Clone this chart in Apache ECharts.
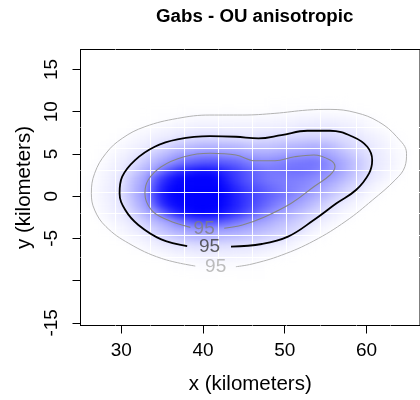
<!DOCTYPE html>
<html><head><meta charset="utf-8">
<script src="https://cdn.jsdelivr.net/npm/echarts@6/dist/echarts.min.js"></script>
<style>html,body{margin:0;padding:0;background:#fff}#c{width:420px;height:400px}</style>
</head><body><div id="c"></div>
<script>
const titleText = 'Gabs - OU anisotropic';
const xName = 'x (kilometers)';
const yName = 'y (kilometers)';
const xTicks = [30, 40, 50, 60];
const yTicks = [-15, -10, -5, 0, 5, 10, 15];
const yTickLabels = [-15, -5, 0, 5, 10, 15];
const xRange = [25.02, 66.55];
const yRange = [-15.32, 17.36];

// density colour intensity (0 = white, 100 = full blue), 1 km cells, rows start at x = 26
const firstCellX = 26;
const rowY = [11, 10, 9, 8, 7, 6, 5, 4, 3, 2, 1, 0, -1, -2, -3, -4, -5, -6, -7, -8, -9];
const dens_p11 = [0,0,0,0,0,0,0,0,0,0,0,0,0,0,0,0,0,0,0,0,0,0,0.3,0.3,0.3,0.3,0.3,0.3,0.3,0.3,0.3,0.3];
const dens_p10 = [0,0,0,0,0,0,0,0,0.3,0.3,0.3,0.3,0.8,0.8,0.8,0.8,0.8,0.8,0.8,0.8,0.8,0.8,0.8,1,1,1.2,1.5,1.5,1.5,1.5,1.2,1.2,0.8,0.3,0.3,0];
const dens_p9 = [0,0,0,0,0,0,0,0.3,0.5,0.8,1.2,2,2.5,3,3,3,3,3,3,3,3,3.5,3.5,4,4,4.5,5,5,5.5,5.5,5,4.5,4,3,2,1.2,0.5,0];
const dens_p8 = [0,0,0,0,0,0.3,1,1.5,2.5,3.5,4.5,5.5,6,6.5,7,7,7,6.5,6.5,6.5,6.5,7,7,7.5,8,8,10,10,10,10,10,8,7,6,4,2.5,1.2,0.5,0];
const dens_p7 = [0,0,0,0.3,0.8,2,3,4.5,6,7,8,10,12,12.5,13.5,13.5,13,12.5,12,10.5,10.5,12,13,14,15,15,16,17,17,16,15,13,12,9,7,5.5,4,2,0.8,0];
const dens_p6 = [0,0,0.5,1.2,2.5,4,5.5,7,10,13,16,20,23,25,27,27,27,27,26,24,22,22,22,24,25,27,28,29,29,27,24,19,15,12.5,10,7,5,3,1.2,0.5];
const dens_p5 = [0,0.5,1.2,2.5,4.5,6.5,9,13,19,24,29,34,38,41,43,44,43,41,40,37,34,33,33,34,36,38,39,40,40,37,32,27,22,17,13,9,6.5,4.5,2.5,1.2];
const dens_p4 = [0,0.8,2,4.5,6.5,10,15,22,28,35,42,50,58,62,65,66,65,63,60,54,49,46,46,48,50,52,53,54,53,48,40,34,28,22,16,10,7,5,2.5,0.8];
const dens_p3 = [0.3,1.2,3.5,6,8,14,22,30,38,55,68,78,86,90,92,91,87,81,75,68,62,57,54,54,55,56,56,54,51,46,41,35,28,21,15,9,6.5,4,2,0.5];
const dens_p2 = [0.8,2,4.5,7,10.5,20,29,38,60,78,90,97,100,100,100,100,97,88,78,70,63,58,54,52,51,51,50,47,44,40,35,29,23,17,12,7,5,2.5,0.8,0];
const dens_p1 = [1,2.5,5,7.5,12.5,22,32,41,68,86,96,100,100,100,100,100,100,94,85,77,70,65,60,56,52,50,47,44,39,33,28,22,17,12,7,4.5,2,0.8,0,0];
const dens_0 = [1,2.5,5,7.5,12.5,22,32,42,70,88,97,100,100,100,100,100,100,96,88,80,74,68,63,58,53,47,42,36,31,26,20,15,10,6.5,4,1.5,0.5,0];
const dens_m1 = [0.5,2,4.5,7,10.5,19,28.5,38,62,82,93,98,100,100,100,100,100,95,88,80,72,65,58,51,45,39,34,28.5,23,18,12.5,8,5.5,3,1.2,0.3];
const dens_m2 = [0,1.2,3.5,6,8,14,22,31,39,58,76,88,95,98,99,98,95,89,82,73,64,55,47,40,35,30,25,20,15,10.5,7,4.5,2.5,0.8,0];
const dens_m3 = [0,0.3,1.5,4,6,9,14,20.5,27,33.5,40,52,62,68,71,71,69,64,57,50,43,38,34,29.5,25.5,21.5,17.5,13,9,6,4,1.5,0.5,0];
const dens_m4 = [0,0,0.5,1.5,3.5,5.5,8,12.5,18,24,29,33,37,39,40,40,39,38,36,33.5,31,28,25.5,22.5,19.5,16,12.5,7,4.5,2.5,0.8,0];
const dens_m5 = [0,0,0,0.3,1.2,3,4.5,6.5,9,13.5,17,20.5,23.5,25.5,26.5,26,25.5,24.5,23.5,22,20.5,18.5,16,14,12,7,5,3,1.2,0.3];
const dens_m6 = [0,0,0,0,0,0.5,1.5,3,5,6.5,8,10,10.5,12,12,12,12,12,10.5,10.5,10,9,7.5,6,5,3.5,1.2,0.5,0];
const dens_m7 = [0,0,0,0,0,0,0,0.5,1.2,2.5,3.5,4.5,5.5,6,6.5,6.5,6,6,6,5.5,5,4,3,2,1,0.3,0];
const dens_m8 = [0,0,0,0,0,0,0,0,0,0,0.3,0.8,1.2,2,2.5,2.5,2.5,2.5,2,1.5,1.2,0.8,0.3,0];
const dens_m9 = [0,0,0,0,0,0,0,0,0,0,0,0.3,0.5,0.5,0.5,0.5,0.5,0.5,0.5,0.5,0.5,0.3,0];
const densityRows = [dens_p11, dens_p10, dens_p9, dens_p8, dens_p7, dens_p6, dens_p5, dens_p4, dens_p3, dens_p2, dens_p1,
  dens_0, dens_m1, dens_m2, dens_m3, dens_m4, dens_m5, dens_m6, dens_m7, dens_m8, dens_m9];

// white raster cell edges (km)
const cellEdgesX = [29.3, 33.5, 37.7, 41.85, 46.0, 50.2, 54.4, 58.7, 62.9];
const cellEdgesY = [-7.2, -4.63, -2.06, 0.51, 3.08, 5.65, 8.2];

// 95% contours (km), open at the label gap
const contourOuter = [[44.03,-8.36],[46.0,-8.04],[49.6,-7.0],[53.56,-5.3],[57.5,-2.95],[60.7,-0.5],[63.5,1.9],[64.7,3.48],[64.9,5.07],[63.7,7.03],[61.5,8.8],[58.72,9.88],[55.55,10.27],[52.77,10.19],[48.8,9.8],[44.83,9.6],[40.85,9.6],[36.88,9.2],[32.9,8.22],[30.12,6.84],[28.14,5.07],[26.75,2.7],[26.35,0.33],[26.75,-1.65],[28.14,-3.62],[30.92,-5.59],[34.9,-7.37],[39.06,-8.28]];
const contourMid = [[43.43,-5.99],[47.2,-5.67],[50.4,-4.8],[53.56,-2.83],[56.34,-0.85],[58.72,0.72],[60.32,2.7],[60.7,4.27],[60.1,5.85],[58.33,7.03],[55.55,7.74],[52.77,7.74],[49.6,7.23],[46.8,6.84],[44.03,7.03],[40.85,7.11],[36.88,6.72],[34.1,5.85],[31.7,4.27],[30.12,2.3],[29.8,0.33],[30.5,-1.65],[32.1,-3.42],[34.9,-5.12],[38.07,-5.91]];
const contourInner = [[42.6,-3.81],[44.83,-3.42],[47.6,-2.44],[50.8,-0.85],[53.56,1.11],[55.55,2.5],[56.15,3.48],[55.55,4.27],[53.56,4.87],[51.2,4.66],[48.8,4.19],[46.4,4.19],[44.03,4.87],[40.85,5.07],[37.7,4.66],[34.9,3.48],[33.3,1.9],[32.9,0.33],[33.7,-1.65],[35.7,-2.83],[38.46,-3.7]];
const labelPos = [[40.15,-3.81],[40.81,-6.0],[41.55,-8.36]];
const labelLevels = ['95', '95', '95'];
const labelColors = ['#808080', '#3a3a3a', '#ababab'];

const heatData = [];
densityRows.forEach((row, r) => row.forEach((v, i) => heatData.push([firstCellX + i, rowY[r], v])));

const FONT = '"Liberation Sans", Arial, Helvetica, sans-serif';
const chart = echarts.init(document.getElementById('c'), null, {renderer: 'canvas'});
const TOP = 1; // zlevel for everything drawn above the density layer
chart.setOption({
  animation: false,
  textStyle: {fontFamily: FONT},
  title: {zlevel: TOP, text: titleText, left: 254.7, top: 7.5, padding: 0, textAlign: 'center',
    textStyle: {fontSize: 18.7, fontWeight: 'bold', color: '#000', fontFamily: FONT}},
  grid: {zlevel: TOP, left: 80.5, top: 49.5, right: -8.96, bottom: 74.5, show: true, borderColor: '#000', borderWidth: 1, backgroundColor: 'transparent'},
  visualMap: {show: false, type: 'continuous', min: 0, max: 100, dimension: 2, seriesIndex: 0, inRange: {color: ['#ffffff', '#0000ff']}},
  xAxis: [
    {zlevel: TOP, type: 'value', min: xRange[0], max: xRange[1], name: xName, nameLocation: 'middle', nameGap: 48,
      nameTextStyle: {fontSize: 20.5, color: '#000', fontFamily: FONT},
      axisLine: {show: true, onZero: false, lineStyle: {color: '#000', width: 1}},
      axisTick: {show: true, length: 8, customValues: xTicks, lineStyle: {color: '#000', width: 1}},
      axisLabel: {customValues: xTicks, margin: 16, fontSize: 19, color: '#000', fontFamily: FONT},
      splitLine: {show: false}},
    {zlevel: TOP, type: 'value', min: xRange[0], max: xRange[1], position: 'bottom', z: 3,
      axisLine: {show: false, onZero: false}, axisLabel: {show: false},
      axisTick: {show: false, customValues: cellEdgesX},
      splitLine: {show: true, lineStyle: {color: 'rgba(255,255,255,0.95)', width: 1}}}
  ],
  yAxis: [
    {zlevel: TOP, type: 'value', min: yRange[0], max: yRange[1], name: yName, nameLocation: 'middle', nameGap: 43.5,
      nameTextStyle: {fontSize: 20.5, color: '#000', fontFamily: FONT},
      axisLine: {show: true, onZero: false, lineStyle: {color: '#000', width: 1}},
      axisTick: {show: true, length: 8, customValues: yTicks, lineStyle: {color: '#000', width: 1}},
      axisLabel: {customValues: yTickLabels, rotate: 90, margin: 19, fontSize: 19, color: '#000', fontFamily: FONT},
      splitLine: {show: false}},
    {zlevel: TOP, type: 'value', min: yRange[0], max: yRange[1], position: 'left', z: 3,
      axisLine: {show: false, onZero: false}, axisLabel: {show: false},
      axisTick: {show: false, customValues: cellEdgesY},
      splitLine: {show: true, lineStyle: {color: 'rgba(255,255,255,0.95)', width: 1}}}
  ],
  series: [
    {type: 'heatmap', zlevel: 0, data: heatData, xAxisIndex: 0, yAxisIndex: 0, progressive: 0, z: 2, silent: true},
    {type: 'line', zlevel: TOP, data: contourOuter, smooth: 0.4, symbol: 'none', z: 4, silent: true, lineStyle: {color: '#b3b3b3', width: 1}},
    {type: 'line', zlevel: TOP, data: contourMid, smooth: 0.4, symbol: 'none', z: 4, silent: true, lineStyle: {color: '#000', width: 1.8}},
    {type: 'line', zlevel: TOP, data: contourInner, smooth: 0.4, symbol: 'none', z: 4, silent: true, lineStyle: {color: '#858585', width: 1.1}},
    {type: 'scatter', zlevel: TOP, z: 5, silent: true, symbolSize: 0,
      data: labelPos.map((p, i) => ({value: p, label: {color: labelColors[i]}})),
      label: {show: true, position: 'inside', formatter: p => labelLevels[p.dataIndex], fontSize: 19, fontFamily: FONT}}
  ]
});
// soften the 1 km density cells like the interpolated raster of the original
const densityLayer = chart.getZr().painter.getLayer && chart.getZr().painter.getLayer(0);
if (densityLayer && densityLayer.dom) densityLayer.dom.style.filter = 'blur(3px)';
</script></body></html>
